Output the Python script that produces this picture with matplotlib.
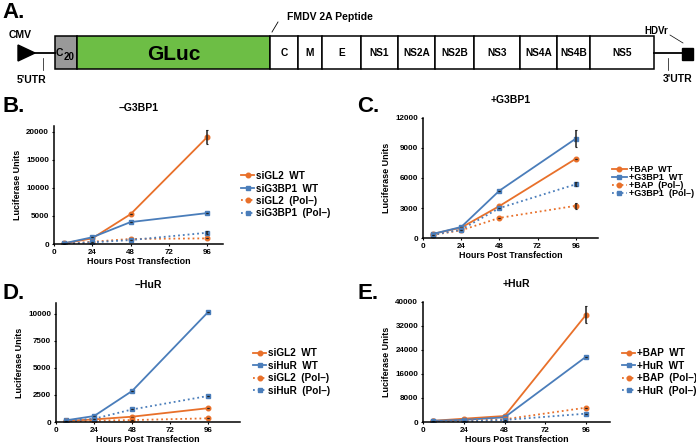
import matplotlib.pyplot as plt
from matplotlib.patches import Rectangle, Polygon

plt.rcParams['font.family'] = ['Liberation Sans', 'DejaVu Sans']
plt.rcParams['font.weight'] = 'bold'

ORANGE = '#E8702A'
BLUE = '#4A7DBA'

hours = [6, 24, 48, 96]

# panel B: -G3BP1
b_labels = ['siGL2  WT', 'siG3BP1  WT', 'siGL2  (Pol–)', 'siG3BP1  (Pol–)']
b_vals = [[100, 1000, 5300, 19000],
          [100, 1200, 3900, 5500],
          [50, 400, 900, 1000],
          [50, 300, 700, 2000]]
b_err = [[0, 0, 0, 1200], [0, 0, 0, 0], [0, 0, 0, 0], [0, 0, 0, 300]]

# panel C: +G3BP1
c_labels = ['+BAP  WT', '+G3BP1  WT', '+BAP  (Pol–)', '+G3BP1  (Pol–)']
c_vals = [[400, 1040, 3190, 7920],
          [400, 1100, 4730, 9930],
          [300, 770, 2010, 3220],
          [300, 840, 2990, 5370]]
c_err = [[0, 0, 0, 0], [0, 0, 0, 840], [0, 0, 0, 320], [0, 0, 0, 200]]

# panel D: -HuR
d_labels = ['siGL2  WT', 'siHuR  WT', 'siGL2  (Pol–)', 'siHuR  (Pol–)']
d_vals = [[100, 240, 490, 1280],
          [150, 550, 2870, 10180],
          [50, 120, 180, 340],
          [100, 300, 1160, 2410]]
d_err = [[0, 0, 0, 0], [0, 0, 0, 0], [0, 0, 0, 0], [0, 0, 0, 0]]

# panel E: +HuR
e_labels = ['+BAP  WT', '+HuR  WT', '+BAP  (Pol–)', '+HuR  (Pol–)']
e_vals = [[400, 1100, 2000, 35800],
          [400, 700, 1560, 21800],
          [200, 450, 900, 4790],
          [200, 220, 670, 2790]]
e_err = [[0, 0, 0, 2800], [0, 0, 0, 0], [0, 0, 0, 0], [0, 0, 0, 0]]

# genome map segments (left, right, label)
segments = [(270, 298, 'C'), (298, 322, 'M'), (322, 361, 'E'), (361, 398, 'NS1'),
            (398, 435, 'NS2A'), (435, 474, 'NS2B'), (474, 520, 'NS3'),
            (520, 557, 'NS4A'), (557, 590, 'NS4B'), (590, 654, 'NS5')]

W, H = 696, 444
fig = plt.figure(figsize=(W / 100, H / 100), dpi=100)

# ---- panel A: construct diagram in pixel coords
axA = fig.add_axes([0, 0, 1, 1])
axA.set_xlim(0, W)
axA.set_ylim(H, 0)
axA.axis('off')
top, bot, mid = 36, 69, 53
axA.text(2, 12, 'A.', fontsize=16, fontweight='bold', va='center', ha='left')
axA.add_patch(Polygon([[18, 45], [18, 61], [35, mid]], closed=True, color='black'))
axA.plot([35, 55], [mid, mid], color='black', lw=1.3)
axA.text(20, 35, 'CMV', fontsize=7.5, ha='center', va='center')
axA.plot([43, 43], [58, 70], color='black', lw=0.5)
axA.text(32, 80, "5'UTR", fontsize=7.5, ha='center', va='center')
axA.add_patch(Rectangle((55, top), 22, bot - top, facecolor='#999999', edgecolor='black', lw=1.1))
axA.text(56, mid + 0.5, 'C', fontsize=7.5, ha='left', va='center')
axA.text(64, mid + 4, '20', fontsize=7, ha='left', va='center')
axA.add_patch(Rectangle((77, top), 193, bot - top, facecolor='#6DBE45', edgecolor='black', lw=1.1))
axA.text(174, mid + 1, 'GLuc', fontsize=15, ha='center', va='center')
for l, r, lab in segments:
    axA.add_patch(Rectangle((l, top), r - l, bot - top, facecolor='white', edgecolor='black', lw=1.1))
    axA.text((l + r) / 2, mid, lab, fontsize=7.3, ha='center', va='center')
axA.plot([272, 278], [32, 22], color='black', lw=0.6)
axA.text(287, 17, 'FMDV 2A Peptide', fontsize=7.5, ha='left', va='center')
axA.plot([654, 683], [mid, mid], color='black', lw=1.3)
axA.add_patch(Rectangle((682, 48), 11, 12, color='black'))
axA.text(656, 31, 'HDVr', fontsize=7, ha='center', va='center')
axA.plot([670, 683], [35, 43], color='black', lw=0.5)
axA.plot([668, 668], [58, 70], color='black', lw=0.5)
axA.text(678, 79, "3'UTR", fontsize=7.5, ha='center', va='center')


def line_panel(rect, vals, errs, labels, xmax, ymax, yticks, title, tag, tagpos, leg_anchor, leg_fmt):
    ax = fig.add_axes(rect)
    styles = [(ORANGE, 'o', '-'), (BLUE, 's', '-'), (ORANGE, 'o', ':'), (BLUE, 's', ':')]
    for v, e, lab, (c, m, ls) in zip(vals, errs, labels, styles):
        ax.plot(hours, v, color=c, marker=m, ls=ls, lw=1.3, ms=3.3, label=lab)
        ax.errorbar(hours, v, yerr=e, fmt='none', ecolor='#222222', elinewidth=1.1, capsize=1.0, capthick=0.8)
    ax.set_xlim(0, xmax)
    ax.set_ylim(0, ymax)
    ax.set_xticks([0, 24, 48, 72, 96])
    ax.set_yticks(yticks)
    for s in ['top', 'right']:
        ax.spines[s].set_visible(False)
    for s in ['left', 'bottom']:
        ax.spines[s].set_linewidth(1.1)
    ax.tick_params(labelsize=5.8, length=1.5, width=0.8, pad=2)
    ax.set_xlabel('Hours Post Transfection', fontsize=6.4, fontweight='bold', labelpad=0.5)
    ax.set_ylabel('Luciferase Units', fontsize=6.5, fontweight='bold', labelpad=3)
    ax.set_title(title, fontsize=7.5, fontweight='bold', pad=11)
    fig.text(tagpos[0] / W, 1 - tagpos[1] / H, tag, fontsize=16, fontweight='bold', ha='left', va='center')
    ax.legend(loc='upper left', bbox_to_anchor=(leg_anchor[0] / W, 1 - leg_anchor[1] / H),
              bbox_transform=fig.transFigure, frameon=False, fontsize=leg_fmt[1], handlelength=leg_fmt[2],
              handletextpad=0.2, labelspacing=leg_fmt[0], borderpad=0, borderaxespad=0)
    return ax


line_panel([54 / W, 1 - 244 / H, 169 / W, 118 / H], b_vals, b_err, b_labels, 106, 21000,
           [0, 5000, 10000, 15000, 20000], '–G3BP1', 'B.', (2, 106), (241, 171), (0.25, 7.2, 1.3))
line_panel([423 / W, 1 - 238 / H, 175 / W, 120 / H], c_vals, c_err, c_labels, 110, 12000,
           [0, 3000, 6000, 9000, 12000], '+G3BP1', 'C.', (357, 107), (612, 165), (-0.1, 6.5, 1.65))
line_panel([56 / W, 1 - 422 / H, 184 / W, 119 / H], d_vals, d_err, d_labels, 116, 11000,
           [0, 2500, 5000, 7500, 10000], '–HuR', 'D.', (2, 293), (253, 348), (0.25, 7.2, 1.3))
line_panel([423 / W, 1 - 422 / H, 187 / W, 120 / H], e_vals, e_err, e_labels, 110, 40000,
           [0, 8000, 16000, 24000, 32000, 40000], '+HuR', 'E.', (357, 293), (622, 348), (0.25, 7.2, 1.3))

fig.savefig('out.png', dpi=100)
